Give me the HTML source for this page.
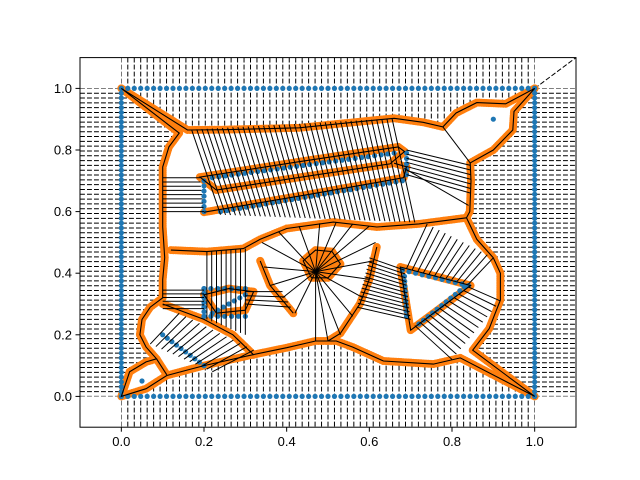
<!DOCTYPE html>
<html><head><meta charset="utf-8"><style>
body{margin:0;background:#fff}
svg{display:block;font-family:"Liberation Sans","DejaVu Sans",sans-serif}
</style></head><body>
<svg id="chart" width="640" height="480"></svg>
<script>
// data
const xTicks=[0.0,0.2,0.4,0.6,0.8,1.0];
const yTicks=[0.0,0.2,0.4,0.6,0.8,1.0];
const edgeCount=64;
const blueSegments=[[[0.1,0.2],[0.2,0.1]],[[0.22,0.71],[0.66,0.79]],[[0.24,0.6],[0.68,0.7]],[[0.2,0.6],[0.2,0.7]],[[0.69,0.72],[0.69,0.79]],
 [[0.2,0.35],[0.3,0.35]],[[0.2,0.26],[0.3,0.26]],[[0.2,0.26],[0.2,0.35]],[[0.22,0.27],[0.3,0.33]],
 [[0.68,0.41],[0.84,0.36]],[[0.685,0.39],[0.69,0.26]],[[0.72,0.235],[0.83,0.355]]];
const blueSingles=[[0.05,0.05],[0.9,0.9]];
const outerShape=[[0.14,0.855],[0.0,1.0],[0.16,0.865],[0.25,0.866],[0.43,0.872],[0.6,0.895],[0.66,0.903],[0.73,0.89],[0.778,0.875],[0.81,0.92],[0.86,0.954],[0.93,0.95],[1.0,1.0],[0.95,0.925],[0.947,0.865],[0.9,0.8],[0.844,0.758],[0.846,0.7],[0.843,0.6],[0.835,0.58],[0.86,0.51],[0.9,0.45],[0.917,0.4],[0.917,0.313],[0.89,0.22],[0.85,0.15],[1.0,0.0],[0.82,0.125],[0.755,0.105],[0.634,0.115],[0.56,0.16],[0.52,0.18],[0.47,0.18],[0.4,0.158],[0.31,0.133],[0.2,0.1],[0.11,0.068],[0.06,0.025],[0.0,0.0],[0.02,0.08],[0.06,0.112],[0.085,0.122],[0.06,0.16],[0.045,0.2],[0.05,0.25],[0.07,0.29],[0.1,0.32],[0.1,0.38],[0.105,0.45],[0.1,0.55],[0.1,0.66],[0.1,0.745],[0.115,0.81]];
const innerCurves=[
 {closed:true,pts:[[0.67,0.81],[0.43,0.762],[0.19,0.712],[0.23,0.67],[0.45,0.715],[0.65,0.755],[0.685,0.795]]},
 {closed:false,pts:[[0.2,0.598],[0.45,0.655],[0.683,0.71],[0.69,0.745],[0.66,0.757]]},
 {closed:false,pts:[[0.12,0.475],[0.207,0.47],[0.295,0.48],[0.336,0.51],[0.4,0.545],[0.513,0.566],[0.618,0.55],[0.72,0.56],[0.835,0.58]]},
 {closed:false,pts:[[0.336,0.44],[0.36,0.36],[0.416,0.27]]},
 {closed:false,pts:[[0.618,0.485],[0.6,0.38],[0.577,0.3],[0.53,0.205],[0.5,0.18]]},
 {closed:true,pts:[[0.44,0.44],[0.47,0.475],[0.51,0.47],[0.53,0.43],[0.5,0.385],[0.46,0.385]]},
 {closed:false,pts:[[0.1,0.3],[0.2,0.25],[0.27,0.2],[0.32,0.135]]},
 {closed:true,pts:[[0.2,0.33],[0.26,0.35],[0.32,0.34],[0.3,0.28],[0.23,0.27]]},
 {closed:true,pts:[[0.675,0.42],[0.845,0.36],[0.7,0.215]]},
 {closed:false,pts:[[0.11,0.07],[0.085,0.122]]}
];
// hatch groups: [startA, endA, startB, endB, count]
const hatches=[
 [[0.17,0.866],[0.655,0.902],[0.24,0.59],[0.71,0.565],40],
 [[0.1,0.6],[0.1,0.71],[0.2,0.6],[0.19,0.71],9],
 [[0.69,0.72],[0.69,0.8],[0.845,0.66],[0.845,0.75],7],
 [[0.207,0.47],[0.3,0.48],[0.207,0.25],[0.3,0.2],9],
 [[0.1,0.285],[0.1,0.345],[0.2,0.285],[0.2,0.345],6],
 [[0.3,0.3],[0.3,0.34],[0.41,0.29],[0.39,0.34],4],
 [[0.14,0.27],[0.32,0.15],[0.07,0.17],[0.22,0.08],12],
 [[0.6,0.45],[0.57,0.29],[0.685,0.41],[0.7,0.25],14],
 [[0.69,0.415],[0.84,0.365],[0.74,0.56],[0.9,0.45],12],
 [[0.84,0.355],[0.71,0.23],[0.917,0.31],[0.8,0.12],12]
];
const starCenter=[0.47,0.405];
const starTargets=[[0.34,0.5],[0.38,0.535],[0.43,0.553],[0.48,0.562],[0.52,0.566],[0.56,0.56],[0.6,0.553],[0.615,0.5],[0.61,0.44],[0.6,0.38],[0.585,0.32],[0.56,0.26],[0.53,0.2],[0.5,0.18],[0.47,0.18],[0.42,0.27],[0.39,0.32],[0.36,0.36],[0.345,0.42]];
const svg=document.getElementById('chart');const NS='http://www.w3.org/2000/svg';
const L=80,R=576,T=57.6,B=427.2;
const sx=v=>L+(v+0.1)/1.2*(R-L);const sy=v=>B-(v+0.1)/1.2*(B-T);
function mk(t,a,p){const e=document.createElementNS(NS,t);for(const k in a)e.setAttribute(k,a[k]);(p||svg).appendChild(e);return e;}
const defs=mk('defs',{});
const cp=mk('clipPath',{id:'clip'},defs);mk('rect',{x:L,y:T,width:R-L,height:B-T},cp);
const poly=a=>a.map(p=>sx(p[0]).toFixed(1)+','+sy(p[1]).toFixed(1)).join(' ');
const cv=mk('clipPath',{id:'clipV'},defs);
mk('polygon',{points:poly([[0,1.2],[1,1.2],[1,1],[0.5,0.5],[0,1]])},cv);
mk('polygon',{points:poly([[0,-0.2],[1,-0.2],[1,0],[0.5,0.5],[0,0]])},cv);
const ch=mk('clipPath',{id:'clipH'},defs);
mk('polygon',{points:poly([[-0.2,0],[-0.2,1],[0,1],[0.5,0.5],[0,0]])},ch);
mk('polygon',{points:poly([[1.2,0],[1.2,1],[1,1],[0.5,0.5],[1,0]])},ch);
const g=mk('g',{'clip-path':'url(#clip)'});
const gv=mk('g',{'clip-path':'url(#clipV)'},g);
const gh=mk('g',{'clip-path':'url(#clipH)'},g);
function resample(pts,step,closed){const out=[];const n=closed?pts.length:pts.length-1;for(let i=0;i<n;i++){const a=pts[i],b=pts[(i+1)%pts.length];const d=Math.hypot(b[0]-a[0],b[1]-a[1]);const m=Math.max(1,Math.round(d/step));for(let k=0;k<m;k++)out.push([a[0]+(b[0]-a[0])*k/m,a[1]+(b[1]-a[1])*k/m]);}if(!closed)out.push(pts[pts.length-1]);return out;}
const blue=[];
for(let i=0;i<=edgeCount;i++){const t=i/edgeCount;blue.push([0,t],[1,t],[t,0],[t,1]);}
for(let i=0;i<=edgeCount;i++){const t=i/edgeCount;
 let l=mk('line',{x1:sx(t),y1:T,x2:sx(t),y2:B,stroke:'#000','stroke-dasharray':'4.9,2.1','stroke-width':1},gv);
 l=mk('line',{x1:L,y1:sy(t),x2:R,y2:sy(t),stroke:'#000','stroke-dasharray':'4.9,2.1','stroke-width':1},gh);}
mk('line',{x1:sx(1),y1:sy(1),x2:R,y2:T,stroke:'#000','stroke-dasharray':'4.9,2.1'},g);
const blob=mk('polygon',{points:poly(outerShape),fill:'#fff'},g);
const outerPts=resample(outerShape,0.006,true);
const innerPts=innerCurves.map(c=>resample(c.pts,0.006,c.closed));
function dots(pts){pts.forEach(p=>{const c=mk('circle',{cx:sx(p[0]),cy:sy(p[1]),r:4,fill:'#ff7f0e'},g);});}
dots(outerPts);innerPts.forEach(dots);
const star=mk('polygon',{points:poly(innerCurves[5].pts),fill:'#ff7f0e',stroke:'#ff7f0e','stroke-width':6},g);
blueSegments.forEach(s=>{const n=Math.max(1,Math.round(Math.hypot(s[1][0]-s[0][0],s[1][1]-s[0][1])/0.016));for(let k=0;k<=n;k++)blue.push([s[0][0]+(s[1][0]-s[0][0])*k/n,s[0][1]+(s[1][1]-s[0][1])*k/n]);});
blueSingles.forEach(p=>blue.push(p));
blue.forEach(p=>{const c=mk('circle',{cx:sx(p[0]),cy:sy(p[1]),r:2.6,fill:'#1f77b4'},g);});
// hatch ridges
hatches.forEach(h=>{const [a0,a1,b0,b1,n]=h;for(let k=0;k<n;k++){const t=n>1?k/(n-1):0.5;
 const l=mk('line',{x1:sx(a0[0]+(a1[0]-a0[0])*t),y1:sy(a0[1]+(a1[1]-a0[1])*t),x2:sx(b0[0]+(b1[0]-b0[0])*t),y2:sy(b0[1]+(b1[1]-b0[1])*t),stroke:'#000','stroke-width':1},g);
 }});
starTargets.forEach(p=>{const l=mk('line',{x1:sx(starCenter[0]),y1:sy(starCenter[1]),x2:sx(p[0]),y2:sy(p[1]),stroke:'#000','stroke-width':1},g);});
mk('line',{x1:sx(0.778),y1:sy(0.875),x2:sx(0.844),y2:sy(0.758),stroke:'#000'},g);
mk('line',{x1:sx(0.685),y1:sy(0.74),x2:sx(0.84),y2:sy(0.62),stroke:'#000'},g);
function line(pts,closed,name){const d='M'+pts.map(p=>sx(p[0]).toFixed(1)+','+sy(p[1]).toFixed(1)).join('L')+(closed?'Z':'');
 const pa=mk('path',{d,fill:'none',stroke:'#000','stroke-width':1.1},g);}
line(outerShape,true,'outer-ridge');
innerCurves.forEach((c,i)=>line(c.pts,c.closed,'inner-ridge-'+i));
const fr=mk('rect',{x:L,y:T,width:R-L,height:B-T,fill:'none',stroke:'#000','stroke-width':1});
xTicks.forEach(v=>{mk('line',{x1:sx(v),y1:B,x2:sx(v),y2:B+4.5,stroke:'#000'});const t=mk('text',{x:sx(v),y:B+19,'text-anchor':'middle','font-size':13});t.textContent=v.toFixed(1);});
yTicks.forEach(v=>{mk('line',{x1:L,y1:sy(v),x2:L-4.5,y2:sy(v),stroke:'#000'});const t=mk('text',{x:L-8,y:sy(v)+4.5,'text-anchor':'end','font-size':13});t.textContent=v.toFixed(1);});
</script>
</body></html>
